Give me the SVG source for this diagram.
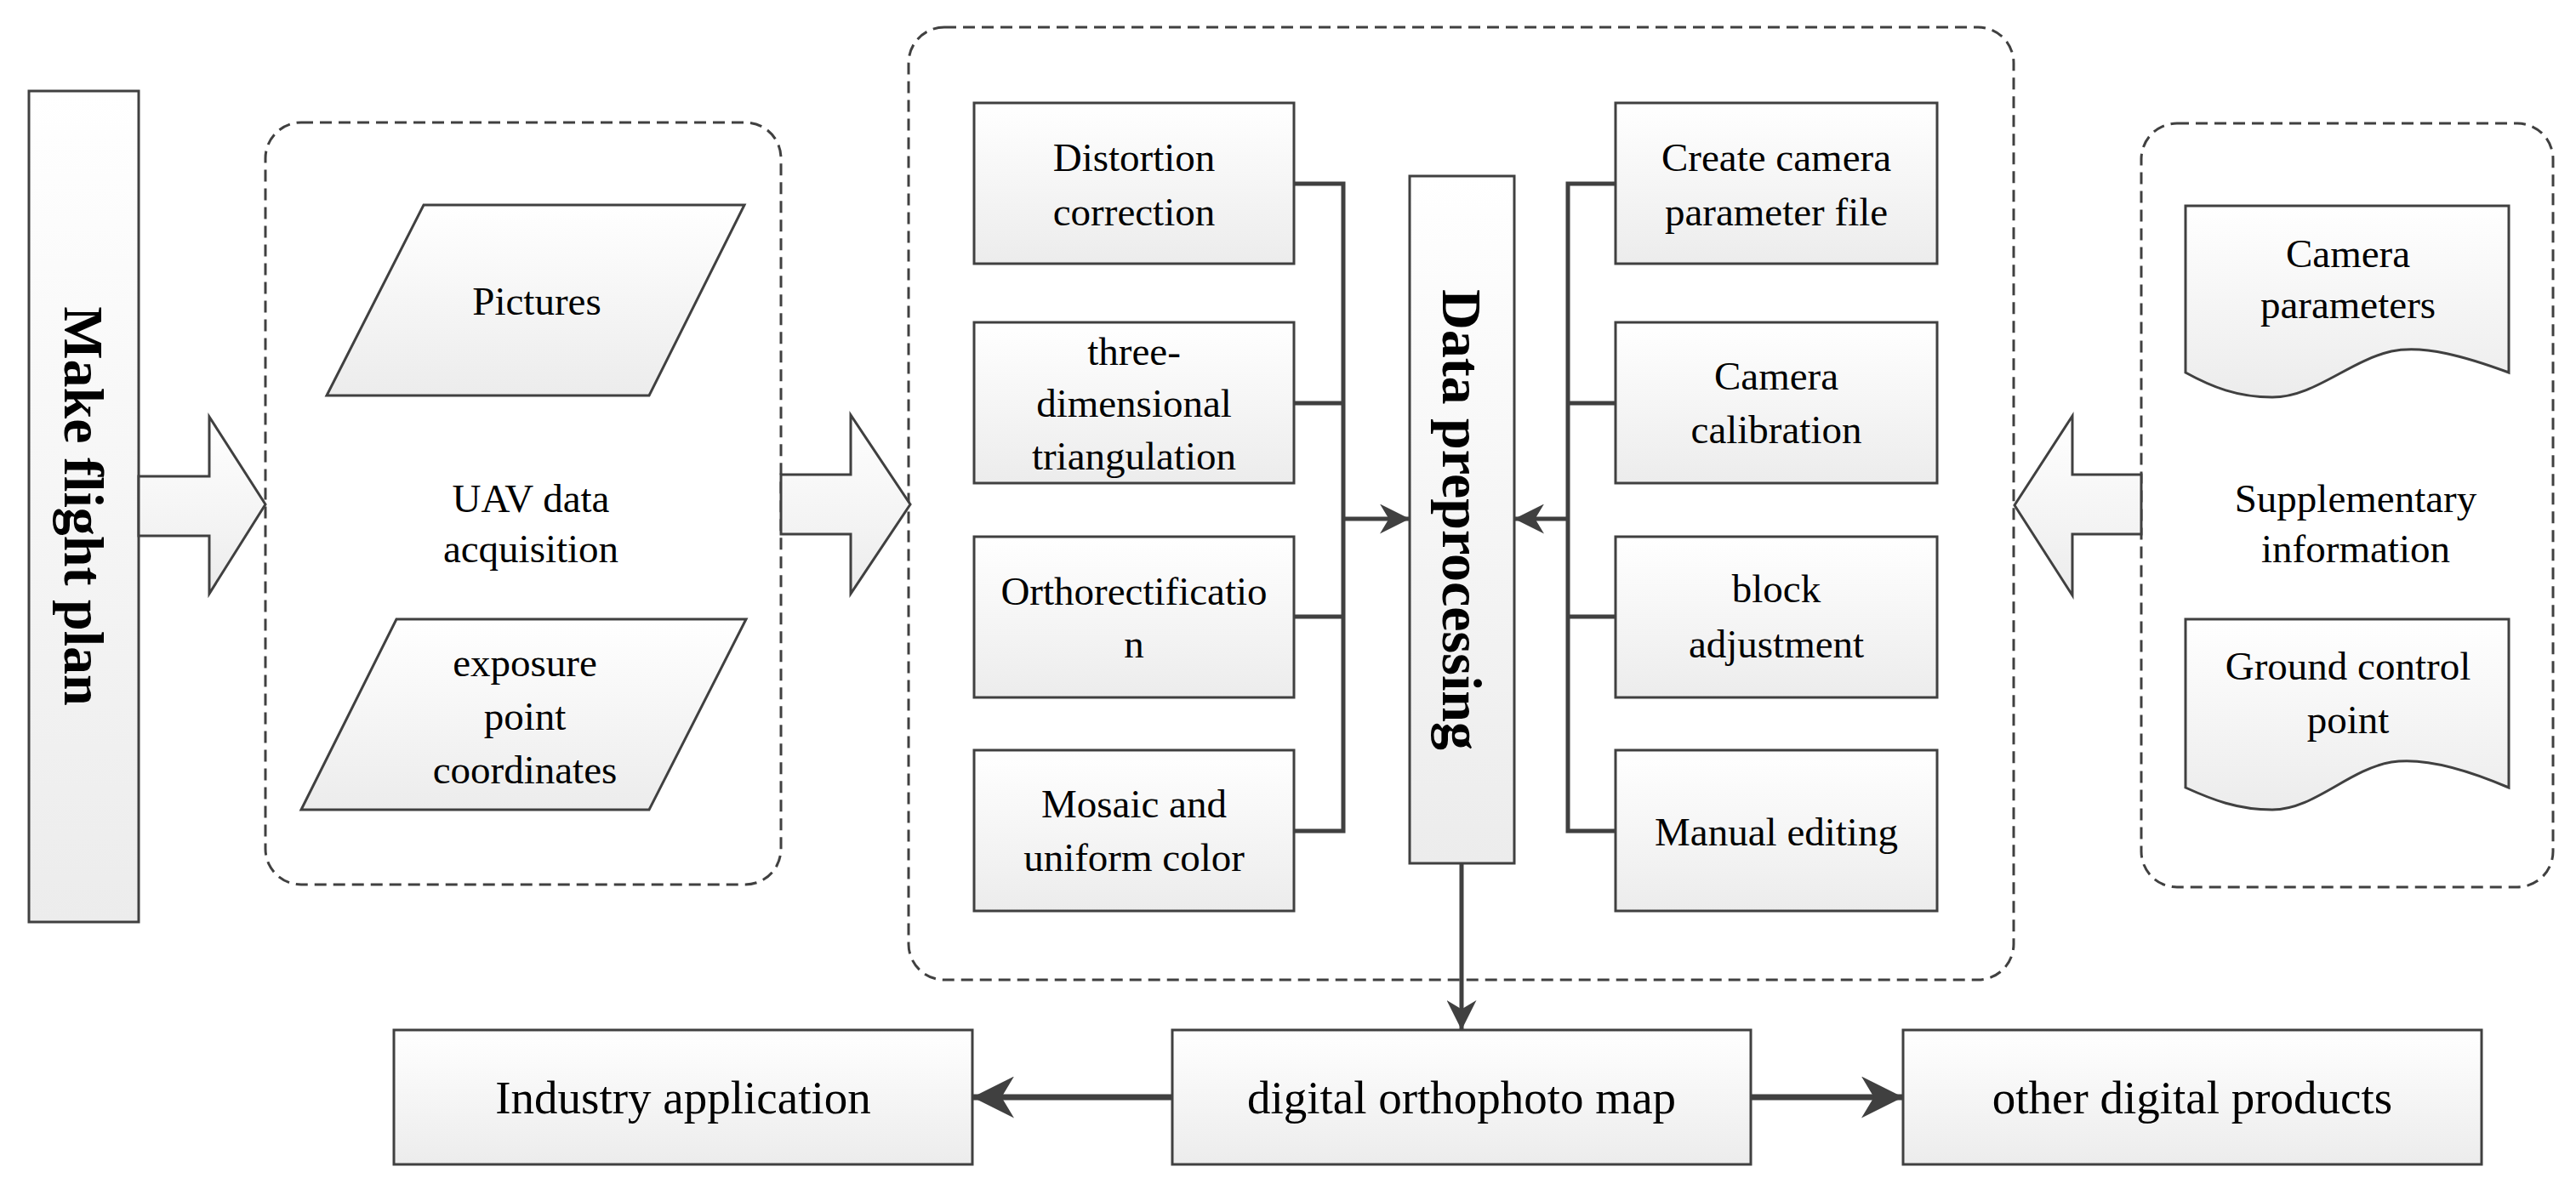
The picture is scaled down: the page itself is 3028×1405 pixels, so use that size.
<svg xmlns="http://www.w3.org/2000/svg" width="3028" height="1405" viewBox="0 0 3028 1405">
<defs>
<linearGradient id="g" x1="0" y1="0" x2="0" y2="1"><stop offset="0" stop-color="#ffffff"/><stop offset="1" stop-color="#ececec"/></linearGradient>
<marker id="ahb" viewBox="0 0 10 10" refX="10" refY="5" markerWidth="7" markerHeight="7" orient="auto"><path d="M0,0 L10,5 L0,10 L3,5 Z" fill="#404040"/></marker>
<style>
.n{fill:url(#g);stroke:#404040;stroke-width:3}
.d{fill:none;stroke:#404040;stroke-width:3;stroke-dasharray:14 8}
.c{fill:none;stroke:#404040;stroke-width:5}
text{font-family:"Liberation Serif","Times New Roman",serif;font-size:47px;fill:#000;text-anchor:middle}
.b{font-weight:bold}
.L{font-size:55px}
</style>
</defs>
<rect class="d" x="312" y="144" width="606" height="896" rx="42"/>
<rect class="d" x="1068" y="32" width="1299" height="1120" rx="42"/>
<rect class="d" x="2517" y="145" width="484" height="898" rx="42"/>

<g id="flight"><rect class="n" x="34" y="107" width="129" height="977"/>
<text class="b" transform="translate(98,595) rotate(90)" style="font-size:66px" dy="22">Make flight plan</text></g>
<g id="arrow1"><path class="n" d="M163,560 H246 V490 L312,593 L246,698 V630 H163 Z"/></g>
<g id="uav"><text x="624" y="602">UAV data</text><text x="624" y="661">acquisition</text></g>
<g id="pictures"><path class="n" d="M498,241 H875 L763,465 H384 Z"/><text x="631" y="370">Pictures</text></g>
<g id="exposure"><path class="n" d="M466,728 H877 L763,952 H354 Z"/><text x="617" y="795">exposure</text><text x="617" y="858">point</text><text x="617" y="921">coordinates</text></g>
<g id="arrow2"><path class="n" d="M918,558 H1000 V488 L1070,593 L1000,698 V628 H918 Z"/></g>

<g id="b1"><rect class="n" x="1145" y="121" width="376" height="189"/><text x="1333" y="201">Distortion</text><text x="1333" y="265">correction</text></g>
<g id="b2"><rect class="n" x="1145" y="379" width="376" height="189"/><text x="1333" y="429">three-</text><text x="1333" y="490">dimensional</text><text x="1333" y="552">triangulation</text></g>
<g id="b3"><rect class="n" x="1145" y="631" width="376" height="189"/><text x="1333" y="711">Orthorectificatio</text><text x="1333" y="773">n</text></g>
<g id="b4"><rect class="n" x="1145" y="882" width="376" height="189"/><text x="1333" y="961">Mosaic and</text><text x="1333" y="1024">uniform color</text></g>
<g id="r1"><rect class="n" x="1899" y="121" width="378" height="189"/><text x="2088" y="201">Create camera</text><text x="2088" y="265">parameter file</text></g>
<g id="r2"><rect class="n" x="1899" y="379" width="378" height="189"/><text x="2088" y="458">Camera</text><text x="2088" y="521">calibration</text></g>
<g id="r3"><rect class="n" x="1899" y="631" width="378" height="189"/><text x="2088" y="708">block</text><text x="2088" y="773">adjustment</text></g>
<g id="r4"><rect class="n" x="1899" y="882" width="378" height="189"/><text x="2088" y="994">Manual editing</text></g>
<g id="dp"><rect class="n" x="1657" y="207" width="123" height="808"/>
<text class="b" transform="translate(1718,611) rotate(90)" style="font-size:66px" dy="22">Data preprocessing</text></g>

<g id="supp"><text x="2769" y="602">Supplementary</text><text x="2769" y="661">information</text></g>
<g id="campar"><path class="n" d="M2569,242 H2949 V438 C2900,420 2850,405 2811,413 C2760,425 2720,467 2671,467 C2630,467 2600,455 2569,438 Z"/><text x="2760" y="314">Camera</text><text x="2760" y="374">parameters</text></g>
<g id="gcp"><path class="n" d="M2569,728 H2949 V926 C2900,905 2850,890 2811,896 C2760,905 2720,952 2671,952 C2630,952 2600,940 2569,926 Z"/><text x="2760" y="799">Ground control</text><text x="2760" y="862">point</text></g>
<g id="arrow3"><path class="n" d="M2517,558 H2436 V489 L2368,594 L2436,700 V628 H2517 Z"/></g>

<g id="ind"><rect class="n" x="463" y="1211" width="680" height="158"/><text class="L" x="803" y="1309">Industry application</text></g>
<g id="dom"><rect class="n" x="1378" y="1211" width="680" height="158"/><text class="L" x="1718" y="1309">digital orthophoto map</text></g>
<g id="oth"><rect class="n" x="2237" y="1211" width="680" height="158"/><text class="L" x="2577" y="1309">other digital products</text></g>

<g id="connectors">
<path class="c" d="M1521,216 H1579 V977 H1521 M1521,474 H1579 M1521,725 H1579"/>
<path class="c" d="M1579,610 H1657" marker-end="url(#ahb)"/>
<path class="c" d="M1899,216 H1843 V977 H1899 M1843,474 H1899 M1843,725 H1899"/>
<path class="c" d="M1843,610 H1780" marker-end="url(#ahb)"/>
<path class="c" d="M1718,1015 V1211" marker-end="url(#ahb)"/>
<path class="c" style="stroke-width:7" d="M1378,1290 H1143" marker-end="url(#ahb)"/>
<path class="c" style="stroke-width:7" d="M2058,1290 H2237" marker-end="url(#ahb)"/>
</g>
</svg>
